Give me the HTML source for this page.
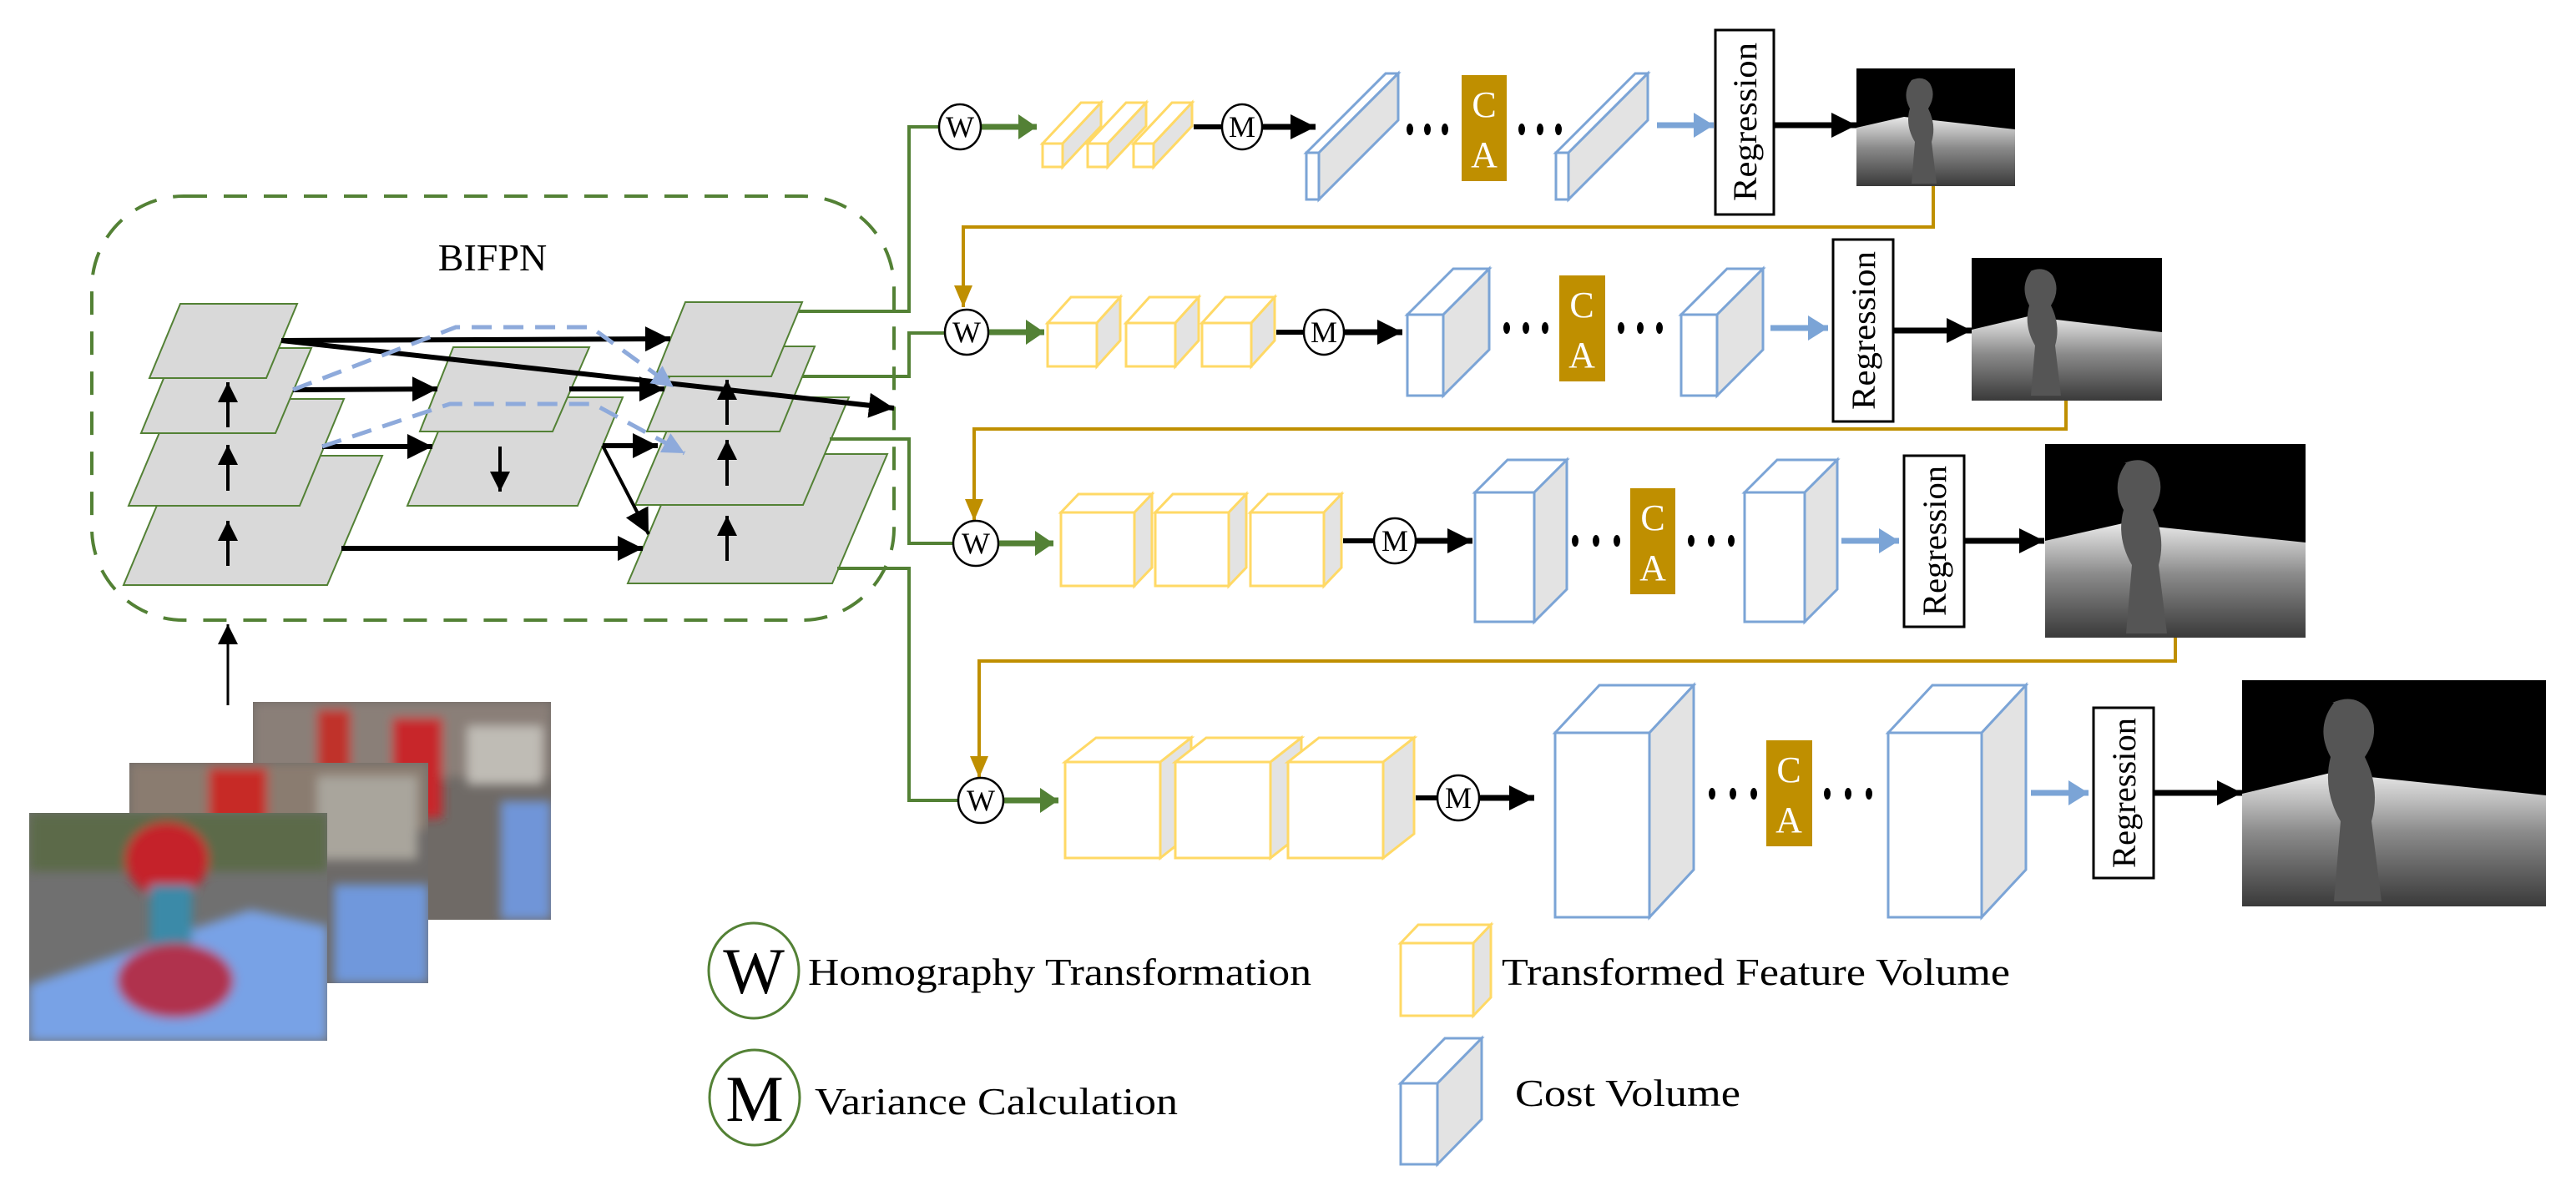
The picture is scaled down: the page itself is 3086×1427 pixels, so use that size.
<!DOCTYPE html>
<html><head><meta charset="utf-8"><style>
html,body{margin:0;padding:0;background:#fff;}
svg{display:block;font-family:"Liberation Serif","Times New Roman",Times,serif;}
text{font-family:"Liberation Serif","Times New Roman",Times,serif;}
</style></head><body>
<svg width="3086" height="1427" viewBox="0 0 3086 1427" xmlns="http://www.w3.org/2000/svg" font-family="Liberation Serif, Times New Roman, serif">
<defs>
<marker id="ab" markerUnits="userSpaceOnUse" markerWidth="40" markerHeight="40" refX="30" refY="15" orient="auto"><path d="M0,0 L30,15 L0,30 Z" fill="#000"/></marker>
<marker id="abs" markerUnits="userSpaceOnUse" markerWidth="40" markerHeight="40" refX="24" refY="12" orient="auto"><path d="M0,0 L24,12 L0,24 Z" fill="#000"/></marker>
<marker id="ag" markerUnits="userSpaceOnUse" markerWidth="40" markerHeight="40" refX="22" refY="15" orient="auto"><path d="M0,0 L22,15 L0,30 Z" fill="#538135"/></marker>
<marker id="al" markerUnits="userSpaceOnUse" markerWidth="40" markerHeight="40" refX="24" refY="15" orient="auto"><path d="M0,0 L24,15 L0,30 Z" fill="#7ba4d6"/></marker>
<marker id="ad" markerUnits="userSpaceOnUse" markerWidth="40" markerHeight="40" refX="26" refY="13" orient="auto"><path d="M0,0 L26,13 L0,26 Z" fill="#8eaadb"/></marker>
<marker id="ao" markerUnits="userSpaceOnUse" markerWidth="40" markerHeight="40" refX="26" refY="11" orient="auto"><path d="M0,0 L26,11 L0,22 Z" fill="#bf8f00"/></marker>
<linearGradient id="gd" x1="0" y1="0" x2="0" y2="1"><stop offset="0" stop-color="#e8e8e8"/><stop offset="0.45" stop-color="#8a8a8a"/><stop offset="1" stop-color="#3a3a3a"/></linearGradient>
<filter id="bl"><feGaussianBlur stdDeviation="6"/></filter>
<clipPath id="c1"><rect x="303" y="841" width="357" height="261"/></clipPath>
<clipPath id="c2"><rect x="155" y="914" width="358" height="264"/></clipPath>
<clipPath id="c3"><rect x="35" y="974" width="357" height="273"/></clipPath>
</defs>

<rect x="110" y="235" width="961" height="508" rx="110" ry="110" fill="none" stroke="#538135" stroke-width="4" stroke-dasharray="28,20"/>
<text x="590" y="324" font-size="46" text-anchor="middle">BIFPN</text>

<g fill="#d9d9d9" stroke="#538135" stroke-width="2">
<polygon points="213,546 458,546 392,701 148,701"/>
<polygon points="208,478 412,478 359,606 154,606"/>
<polygon points="211,417 373,417 330,519 169,519"/>
<polygon points="216,364 356,364 319,453 179,453"/>
<polygon points="542,476 746,476 692,606 488,606"/>
<polygon points="543,416 706,416 662,517 503,517"/>
<polygon points="818,544 1063,544 997,699 752,699"/>
<polygon points="816,476 1017,476 962,605 761,605"/>
<polygon points="817,415 976,415 934,517 775,517"/>
<polygon points="821,362 961,362 924,451 785,451"/>
</g>
<g stroke="#000" stroke-width="4" fill="none">
<line x1="273" y1="512" x2="273" y2="458" marker-end="url(#abs)"/>
<line x1="273" y1="588" x2="273" y2="533" marker-end="url(#abs)"/>
<line x1="273" y1="678" x2="273" y2="624" marker-end="url(#abs)"/>
<line x1="599" y1="535" x2="599" y2="589" marker-end="url(#abs)"/>
<line x1="871" y1="509" x2="871" y2="455" marker-end="url(#abs)"/>
<line x1="871" y1="582" x2="871" y2="527" marker-end="url(#abs)"/>
<line x1="871" y1="672" x2="871" y2="618" marker-end="url(#abs)"/>
<line x1="337" y1="408" x2="803" y2="406" stroke-width="6" marker-end="url(#ab)"/>
<line x1="337" y1="408" x2="1071" y2="489" stroke-width="6" marker-end="url(#ab)"/>
<line x1="351" y1="467" x2="524" y2="466" stroke-width="6" marker-end="url(#ab)"/>
<line x1="682" y1="466" x2="796" y2="466" stroke-width="6" marker-end="url(#ab)"/>
<line x1="386" y1="535" x2="518" y2="535" stroke-width="6" marker-end="url(#ab)"/>
<line x1="722" y1="534" x2="788" y2="534" stroke-width="6" marker-end="url(#ab)"/>
<line x1="722" y1="534" x2="777" y2="640" marker-end="url(#ab)"/>
<line x1="409" y1="657" x2="770" y2="657" stroke-width="6" marker-end="url(#ab)"/>
<line x1="273" y1="845" x2="273" y2="748" stroke-width="3" marker-end="url(#abs)"/>
</g>
<g stroke="#8eaadb" stroke-width="5" fill="none" stroke-dasharray="24,14">
<polyline points="351,467 546,392 708,392 807,464" marker-end="url(#ad)"/>
<polyline points="386,535 539,484 711,484 820,543" marker-end="url(#ad)"/>
</g>

<g stroke="#538135" stroke-width="4" fill="none">
<polyline points="957,373 1089,373 1089,152 1124,152"/>
<polyline points="961,451 1089,451 1089,399 1132,399"/>
<polyline points="994,526 1089,526 1089,651 1142,651"/>
<polyline points="1003,681 1089,681 1089,959 1148,959"/>
</g>
<g stroke="#538135" stroke-width="7">
<line x1="1176" y1="152" x2="1242" y2="152" marker-end="url(#ag)"/>
<line x1="1184" y1="398" x2="1251" y2="398" marker-end="url(#ag)"/>
<line x1="1196" y1="651" x2="1262" y2="651" marker-end="url(#ag)"/>
<line x1="1202" y1="959" x2="1268" y2="959" marker-end="url(#ag)"/>
</g>
<g stroke="#bf8f00" stroke-width="4" fill="none">
<polyline points="2316,223 2316,272 1154,272 1154,368" marker-end="url(#ao)"/>
<polyline points="2475,480 2475,514 1167,514 1167,624" marker-end="url(#ao)"/>
<polyline points="2606,764 2606,792 1173,792 1173,932" marker-end="url(#ao)"/>
</g>

<!-- lines boxes -> M -->
<g stroke="#000" stroke-width="6">
<line x1="1430" y1="152" x2="1466" y2="152"/>
<line x1="1529" y1="398" x2="1564" y2="398"/>
<line x1="1609" y1="648" x2="1648" y2="648"/>
<line x1="1696" y1="956" x2="1724" y2="956"/>
</g>

<g fill="#fff" stroke="#000" stroke-width="2.5">
<ellipse cx="1150" cy="152" rx="25" ry="27"/>
<ellipse cx="1158" cy="398" rx="26" ry="27"/>
<ellipse cx="1169" cy="651" rx="27" ry="27"/>
<ellipse cx="1175" cy="959" rx="27" ry="27"/>
<ellipse cx="1488" cy="152" rx="24" ry="27"/>
<ellipse cx="1586" cy="398" rx="24" ry="27"/>
<ellipse cx="1671" cy="648" rx="25" ry="27"/>
<ellipse cx="1747" cy="956" rx="25" ry="27"/>
</g>
<g font-size="36" text-anchor="middle">
<text x="1150" y="164">W</text><text x="1158" y="410">W</text><text x="1169" y="663">W</text><text x="1175" y="971">W</text>
<text x="1488" y="164">M</text><text x="1586" y="410">M</text><text x="1671" y="660">M</text><text x="1747" y="968">M</text>
</g>
<g stroke="#000" stroke-width="7">
<line x1="1512" y1="152" x2="1576" y2="152" marker-end="url(#ab)"/>
<line x1="1610" y1="398" x2="1680" y2="398" marker-end="url(#ab)"/>
<line x1="1696" y1="648" x2="1764" y2="648" marker-end="url(#ab)"/>
<line x1="1772" y1="956" x2="1838" y2="956" marker-end="url(#ab)"/>
</g>

<g fill="#fff" stroke="#ffd966" stroke-width="3">
<polygon points="1249,172 1295,123 1319,123 1273,172"/><polygon points="1273,172 1319,123 1319,151 1273,200" fill="#e3e3e3"/><rect x="1249" y="172" width="24" height="28"/>
<polygon points="1303,172 1349,123 1373,123 1327,172"/><polygon points="1327,172 1373,123 1373,151 1327,200" fill="#e3e3e3"/><rect x="1303" y="172" width="24" height="28"/>
<polygon points="1358,172 1404,123 1428,123 1382,172"/><polygon points="1382,172 1428,123 1428,151 1382,200" fill="#e3e3e3"/><rect x="1358" y="172" width="24" height="28"/>
<polygon points="1255,387 1283,356 1342,356 1314,387"/><polygon points="1314,387 1342,356 1342,408 1314,439" fill="#e3e3e3"/><rect x="1255" y="387" width="59" height="52"/>
<polygon points="1349,387 1377,356 1436,356 1408,387"/><polygon points="1408,387 1436,356 1436,408 1408,439" fill="#e3e3e3"/><rect x="1349" y="387" width="59" height="52"/>
<polygon points="1440,387 1468,356 1527,356 1499,387"/><polygon points="1499,387 1527,356 1527,408 1499,439" fill="#e3e3e3"/><rect x="1440" y="387" width="59" height="52"/>
<polygon points="1271,614 1292,592 1380,592 1359,614"/><polygon points="1359,614 1380,592 1380,680 1359,702" fill="#e3e3e3"/><rect x="1271" y="614" width="88" height="88"/>
<polygon points="1384,614 1405,592 1493,592 1472,614"/><polygon points="1472,614 1493,592 1493,680 1472,702" fill="#e3e3e3"/><rect x="1384" y="614" width="88" height="88"/>
<polygon points="1498,614 1519,592 1607,592 1586,614"/><polygon points="1586,614 1607,592 1607,680 1586,702" fill="#e3e3e3"/><rect x="1498" y="614" width="88" height="88"/>
<polygon points="1276,913 1313,884 1427,884 1390,913"/><polygon points="1390,913 1427,884 1427,999 1390,1028" fill="#e3e3e3"/><rect x="1276" y="913" width="114" height="115"/>
<polygon points="1408,913 1445,884 1559,884 1522,913"/><polygon points="1522,913 1559,884 1559,999 1522,1028" fill="#e3e3e3"/><rect x="1408" y="913" width="114" height="115"/>
<polygon points="1543,913 1580,884 1694,884 1657,913"/><polygon points="1657,913 1694,884 1694,999 1657,1028" fill="#e3e3e3"/><rect x="1543" y="913" width="114" height="115"/>
<polygon points="1678,1130 1699,1108 1786,1108 1765,1130"/><polygon points="1765,1130 1786,1108 1786,1195 1765,1217" fill="#e3e3e3"/><rect x="1678" y="1130" width="87" height="87"/>
</g>

<g fill="#fff" stroke="#7ba4d6" stroke-width="3">
<polygon points="1565,183 1660,88 1675,88 1580,183"/><polygon points="1580,183 1675,88 1675,144 1580,239" fill="#e3e3e3"/><rect x="1565" y="183" width="15" height="56"/>
<polygon points="1864,183 1959,88 1974,88 1879,183"/><polygon points="1879,183 1974,88 1974,144 1879,239" fill="#e3e3e3"/><rect x="1864" y="183" width="15" height="56"/>
<polygon points="1686,377 1741,322 1784,322 1729,377"/><polygon points="1729,377 1784,322 1784,419 1729,474" fill="#e3e3e3"/><rect x="1686" y="377" width="43" height="97"/>
<polygon points="2014,377 2069,322 2112,322 2057,377"/><polygon points="2057,377 2112,322 2112,419 2057,474" fill="#e3e3e3"/><rect x="2014" y="377" width="43" height="97"/>
<polygon points="1767,590 1806,551 1877,551 1838,590"/><polygon points="1838,590 1877,551 1877,706 1838,745" fill="#e3e3e3"/><rect x="1767" y="590" width="71" height="155"/>
<polygon points="2090,590 2129,551 2201,551 2162,590"/><polygon points="2162,590 2201,551 2201,706 2162,745" fill="#e3e3e3"/><rect x="2090" y="590" width="72" height="155"/>
<polygon points="1863,878 1916,821 2029,821 1976,878"/><polygon points="1976,878 2029,821 2029,1042 1976,1099" fill="#e3e3e3"/><rect x="1863" y="878" width="113" height="221"/>
<polygon points="2262,878 2315,821 2427,821 2374,878"/><polygon points="2374,878 2427,821 2427,1042 2374,1099" fill="#e3e3e3"/><rect x="2262" y="878" width="112" height="221"/>
<polygon points="1678,1298 1731,1244 1775,1244 1722,1298"/><polygon points="1722,1298 1775,1244 1775,1341 1722,1395" fill="#e3e3e3"/><rect x="1678" y="1298" width="44" height="97"/>
</g>

<g fill="#000">
<ellipse cx="1689" cy="155" rx="4" ry="7"/><ellipse cx="1710" cy="155" rx="4" ry="7"/><ellipse cx="1731" cy="155" rx="4" ry="7"/>
<ellipse cx="1823" cy="155" rx="4" ry="7"/><ellipse cx="1845" cy="155" rx="4" ry="7"/><ellipse cx="1867" cy="155" rx="4" ry="7"/>
<ellipse cx="1805" cy="393" rx="4" ry="7"/><ellipse cx="1828" cy="393" rx="4" ry="7"/><ellipse cx="1851" cy="393" rx="4" ry="7"/>
<ellipse cx="1942" cy="393" rx="4" ry="7"/><ellipse cx="1965" cy="393" rx="4" ry="7"/><ellipse cx="1988" cy="393" rx="4" ry="7"/>
<ellipse cx="1887" cy="648" rx="4" ry="7"/><ellipse cx="1912" cy="648" rx="4" ry="7"/><ellipse cx="1937" cy="648" rx="4" ry="7"/>
<ellipse cx="2026" cy="648" rx="4" ry="7"/><ellipse cx="2050" cy="648" rx="4" ry="7"/><ellipse cx="2074" cy="648" rx="4" ry="7"/>
<ellipse cx="2051" cy="951" rx="4" ry="7"/><ellipse cx="2076" cy="951" rx="4" ry="7"/><ellipse cx="2101" cy="951" rx="4" ry="7"/>
<ellipse cx="2189" cy="951" rx="4" ry="7"/><ellipse cx="2214" cy="951" rx="4" ry="7"/><ellipse cx="2239" cy="951" rx="4" ry="7"/>
</g>

<g fill="#bf8f00">
<rect x="1751" y="90" width="54" height="127"/>
<rect x="1868" y="330" width="55" height="127"/>
<rect x="1953" y="585" width="54" height="127"/>
<rect x="2116" y="887" width="55" height="127"/>
</g>
<g fill="#fff" font-size="44" text-anchor="middle">
<text x="1778" y="140">C</text><text x="1778" y="200">A</text>
<text x="1895" y="380">C</text><text x="1895" y="440">A</text>
<text x="1980" y="635">C</text><text x="1980" y="695">A</text>
<text x="2143" y="937">C</text><text x="2143" y="997">A</text>
</g>

<g stroke="#7ba4d6" stroke-width="7">
<line x1="1985" y1="150" x2="2053" y2="150" marker-end="url(#al)"/>
<line x1="2121" y1="393" x2="2190" y2="393" marker-end="url(#al)"/>
<line x1="2206" y1="648" x2="2275" y2="648" marker-end="url(#al)"/>
<line x1="2433" y1="950" x2="2502" y2="950" marker-end="url(#al)"/>
</g>

<g fill="#fff" stroke="#000" stroke-width="3">
<rect x="2055" y="36" width="70" height="221"/>
<rect x="2196" y="287" width="72" height="218"/>
<rect x="2281" y="546" width="72" height="205"/>
<rect x="2508" y="848" width="72" height="204"/>
</g>
<g font-size="40" text-anchor="middle">
<text transform="translate(2104,146) rotate(-90)" textLength="190" lengthAdjust="spacingAndGlyphs">Regression</text>
<text transform="translate(2246,396) rotate(-90)" textLength="190" lengthAdjust="spacingAndGlyphs">Regression</text>
<text transform="translate(2331,648) rotate(-90)" textLength="180" lengthAdjust="spacingAndGlyphs">Regression</text>
<text transform="translate(2558,950) rotate(-90)" textLength="180" lengthAdjust="spacingAndGlyphs">Regression</text>
</g>
<g stroke="#000" stroke-width="7">
<line x1="2125" y1="150" x2="2224" y2="150" marker-end="url(#ab)"/>
<line x1="2268" y1="396" x2="2362" y2="396" marker-end="url(#ab)"/>
<line x1="2353" y1="648" x2="2449" y2="648" marker-end="url(#ab)"/>
<line x1="2580" y1="950" x2="2686" y2="950" marker-end="url(#ab)"/>
</g>

<g>
<rect x="2224" y="82" width="190" height="141" fill="#000"/>
<polygon points="2224,153 2281,140 2414,155 2414,223 2224,223" fill="url(#gd)"/>
<path d="M2290,96 q14,-6 22,4 q8,14 -2,30 q10,20 4,40 l6,50 l-30,0 l4,-50 q-12,-20 -6,-40 q-10,-18 2,-34z" fill="#555"/>
<rect x="2362" y="309" width="228" height="171" fill="#000"/>
<polygon points="2362,395 2430,379 2590,398 2590,480 2362,480" fill="url(#gd)"/>
<path d="M2432,325 q17,-7 27,5 q10,17 -2,36 q12,24 5,48 l7,60 l-36,0 l5,-60 q-14,-24 -7,-48 q-12,-22 2,-41z" fill="#555"/>
<rect x="2450" y="532" width="312" height="232" fill="#000"/>
<polygon points="2450,648 2543,627 2762,650 2762,764 2450,764" fill="url(#gd)"/>
<path d="M2545,555 q23,-10 37,7 q14,23 -3,49 q16,33 7,66 l10,82 l-49,0 l7,-82 q-19,-33 -10,-66 q-16,-30 3,-56z" fill="#555"/>
<rect x="2686" y="815" width="364" height="271" fill="#000"/>
<polygon points="2686,951 2792,926 3050,953 3050,1086 2686,1086" fill="url(#gd)"/>
<path d="M2794,842 q27,-12 43,8 q16,27 -4,57 q19,38 8,77 l12,96 l-57,0 l8,-96 q-22,-38 -12,-77 q-19,-35 4,-65z" fill="#555"/>
</g>

<g clip-path="url(#c1)">
<rect x="303" y="841" width="357" height="261" fill="#6f6a66"/>
<g filter="url(#bl)">
<rect x="303" y="841" width="357" height="90" fill="#8a7f78"/>
<rect x="380" y="850" width="40" height="110" fill="#c0302a"/>
<rect x="470" y="860" width="60" height="120" fill="#c8262a"/>
<rect x="560" y="870" width="90" height="70" fill="#bfbcb5"/>
<rect x="600" y="960" width="60" height="142" fill="#6f95d8"/>
</g>
</g>
<g clip-path="url(#c2)">
<rect x="155" y="914" width="358" height="264" fill="#6d6a68"/>
<g filter="url(#bl)">
<rect x="155" y="914" width="358" height="80" fill="#8a7c70"/>
<rect x="250" y="920" width="70" height="120" fill="#c72a28"/>
<rect x="380" y="930" width="120" height="100" fill="#a9a59c"/>
<rect x="400" y="1060" width="113" height="118" fill="#6f98dc"/>
<ellipse cx="330" cy="1120" rx="50" ry="40" fill="#a03050"/>
</g>
</g>
<g clip-path="url(#c3)">
<rect x="35" y="974" width="357" height="273" fill="#707070"/>
<g filter="url(#bl)">
<rect x="35" y="974" width="357" height="70" fill="#5b6a4a"/>
<polygon points="35,1180 300,1090 392,1110 392,1247 35,1247" fill="#78a2e6"/>
<ellipse cx="200" cy="1030" rx="50" ry="45" fill="#c5242a"/>
<rect x="180" y="1060" width="50" height="90" fill="#3a8aa8"/>
<ellipse cx="210" cy="1175" rx="70" ry="45" fill="#b0304e"/>
</g>
</g>

<ellipse cx="903" cy="1163" rx="54" ry="57" fill="#fff" stroke="#538135" stroke-width="3"/>
<text x="903" y="1190" font-size="78" text-anchor="middle">W</text>
<text x="968" y="1180" font-size="46" textLength="603" lengthAdjust="spacingAndGlyphs">Homography Transformation</text>
<ellipse cx="904" cy="1315" rx="54" ry="57" fill="#fff" stroke="#538135" stroke-width="3"/>
<text x="904" y="1343" font-size="78" text-anchor="middle">M</text>
<text x="976" y="1335" font-size="46" textLength="435" lengthAdjust="spacingAndGlyphs">Variance Calculation</text>
<text x="1799" y="1180" font-size="46" textLength="609" lengthAdjust="spacingAndGlyphs">Transformed Feature Volume</text>
<text x="1815" y="1325" font-size="46" textLength="270" lengthAdjust="spacingAndGlyphs">Cost Volume</text>
</svg>
</body></html>
